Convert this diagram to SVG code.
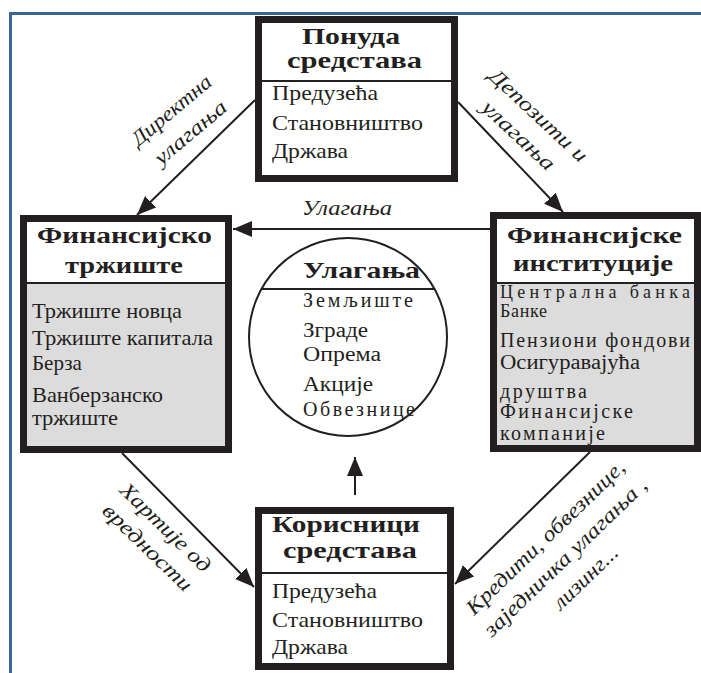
<svg xmlns="http://www.w3.org/2000/svg" width="701" height="673" viewBox="0 0 701 673">
<defs>
<style>
text{font-family:'Liberation Serif','Times New Roman',Times,serif;fill:#231f20}
.h{font-size:24px;font-weight:bold}
.i{font-size:21px}
.s{font-size:20px}
.l{font-size:21px;font-style:italic}
.box{fill:none;stroke:#231f20;stroke-width:7}
.div{stroke:#231f20;stroke-width:2}
.con{stroke:#231f20;stroke-width:2;fill:none;marker-end:url(#ah)}
</style>
<marker id="ah" markerUnits="userSpaceOnUse" markerWidth="20" markerHeight="16" refX="19" refY="8" orient="auto">
<path d="M0,0 L19,8 L0,16 z" fill="#231f20"/>
</marker>
</defs>
<rect width="701" height="673" fill="#ffffff"/>
<g id="frame" fill="#3a6598">
<rect x="9" y="12" width="692" height="3"/>
<rect x="9" y="12" width="3" height="661"/>
</g>

<g id="connectors">
<line class="con" x1="255" y1="100" x2="137" y2="215"/>
<line class="con" x1="458" y1="102" x2="563" y2="212"/>
<line class="con" x1="490" y1="229" x2="233" y2="229"/>
<line class="con" x1="122" y1="453" x2="254" y2="587"/>
<line class="con" x1="590" y1="452" x2="455" y2="584"/>
<line class="con" x1="355" y1="495" x2="355" y2="457"/>
<g class="l">
<text transform="translate(172,111) rotate(-40)" y="6" text-anchor="middle" textLength="98" lengthAdjust="spacingAndGlyphs">Директна</text>
<text transform="translate(191,133) rotate(-40)" y="6" text-anchor="middle" textLength="88" lengthAdjust="spacingAndGlyphs">улагања</text>
<text transform="translate(538,116) rotate(43)" y="6" text-anchor="middle" textLength="126" lengthAdjust="spacingAndGlyphs">Депозити и</text>
<text transform="translate(518,136) rotate(43)" y="6" text-anchor="middle" textLength="92" lengthAdjust="spacingAndGlyphs">улагања</text>
<text x="347" y="215" text-anchor="middle" textLength="90" lengthAdjust="spacingAndGlyphs">Улагања</text>
<text transform="translate(165,528) rotate(44)" y="6" text-anchor="middle" textLength="118" lengthAdjust="spacingAndGlyphs">Хартије од</text>
<text transform="translate(147,548) rotate(44)" y="6" text-anchor="middle" textLength="116" lengthAdjust="spacingAndGlyphs">вредности</text>
<text transform="translate(546,538) rotate(-44)" y="6" text-anchor="middle" textLength="212" lengthAdjust="spacingAndGlyphs">Кредити, обвезнице,</text>
<text transform="translate(566,558) rotate(-44)" y="6" text-anchor="middle" textLength="218" lengthAdjust="spacingAndGlyphs">заједничка улагања ,</text>
<text transform="translate(586,578) rotate(-44)" y="6" text-anchor="middle" textLength="82" lengthAdjust="spacingAndGlyphs">лизинг...</text>
</g>
</g>

<g id="ponuda">
<rect x="258.5" y="19.5" width="196" height="159" fill="#ffffff"/>
<rect class="box" x="258.5" y="19.5" width="196" height="159"/>
<line class="div" x1="262" y1="81" x2="451" y2="81"/>
<g class="h">
<text x="302" y="44" textLength="98" lengthAdjust="spacingAndGlyphs">Понуда</text>
<text x="287" y="68" textLength="135" lengthAdjust="spacingAndGlyphs">средстава</text>
</g>
<g class="i">
<text x="272" y="100" textLength="106" lengthAdjust="spacingAndGlyphs">Предузећа</text>
<text x="272" y="130" textLength="151" lengthAdjust="spacingAndGlyphs">Становништво</text>
<text x="272" y="158" textLength="76" lengthAdjust="spacingAndGlyphs">Држава</text>
</g>
</g>

<g id="trziste">
<rect x="23.5" y="218.5" width="205" height="231" fill="#ffffff"/>
<rect x="27" y="283" width="198" height="163" fill="#dcdcdc"/>
<rect class="box" x="23.5" y="218.5" width="205" height="231"/>
<line class="div" x1="27" y1="283" x2="225" y2="283"/>
<g class="h">
<text x="37" y="243" textLength="175" lengthAdjust="spacingAndGlyphs">Финансијско</text>
<text x="65" y="273" textLength="118" lengthAdjust="spacingAndGlyphs">тржиште</text>
</g>
<g class="i">
<text x="32" y="318" textLength="150" lengthAdjust="spacingAndGlyphs">Тржиште новца</text>
<text x="32" y="345" textLength="181" lengthAdjust="spacingAndGlyphs">Тржиште капитала</text>
<text x="32" y="370" textLength="50" lengthAdjust="spacingAndGlyphs">Берза</text>
<text x="32" y="402" textLength="131" lengthAdjust="spacingAndGlyphs">Ванберзанско</text>
<text x="32" y="425" textLength="86" lengthAdjust="spacingAndGlyphs">тржиште</text>
</g>
</g>

<g id="institucije">
<rect x="493.5" y="215.5" width="204" height="233" fill="#ffffff"/>
<rect x="497" y="283" width="197" height="162" fill="#dcdcdc"/>
<rect class="box" x="493.5" y="215.5" width="204" height="233"/>
<line class="div" x1="497" y1="283" x2="694" y2="283"/>
<g class="h">
<text x="507" y="243" textLength="175" lengthAdjust="spacingAndGlyphs">Финансијске</text>
<text x="513" y="271" textLength="160" lengthAdjust="spacingAndGlyphs">институције</text>
</g>
<g class="s">
<text x="500" y="298" font-size="18" textLength="190" lengthAdjust="spacing">Централна банка</text>
<text x="500" y="317" font-size="18" textLength="47" lengthAdjust="spacing">Банке</text>
<text x="500" y="347" textLength="190" lengthAdjust="spacing">Пензиони фондови</text>
<text x="500" y="369" textLength="140" lengthAdjust="spacingAndGlyphs">Осигуравајућа</text>
<text x="500" y="398" textLength="87" lengthAdjust="spacing">друштва</text>
<text x="500" y="418" textLength="133" lengthAdjust="spacing">Финансијске</text>
<text x="500" y="440" textLength="105" lengthAdjust="spacing">компаније</text>
</g>
</g>

<g id="ulaganja">
<circle cx="348" cy="337" r="99" fill="#ffffff" stroke="#231f20" stroke-width="2"/>
<line class="div" x1="262" y1="289" x2="435" y2="289"/>
<text class="h" x="303" y="278" textLength="117" lengthAdjust="spacingAndGlyphs">Улагања</text>
<g class="s">
<text x="303" y="307" textLength="110" lengthAdjust="spacing">Земљиште</text>
<text x="303" y="337" textLength="65" lengthAdjust="spacingAndGlyphs">Зграде</text>
<text x="303" y="361" textLength="78" lengthAdjust="spacingAndGlyphs">Опрема</text>
<text x="303" y="391" textLength="70" lengthAdjust="spacingAndGlyphs">Акције</text>
<text x="303" y="416" textLength="112" lengthAdjust="spacing">Обвезнице</text>
</g>
</g>

<g id="korisnici">
<rect x="258.5" y="510.5" width="192" height="156" fill="#ffffff"/>
<rect class="box" x="258.5" y="510.5" width="192" height="156"/>
<line class="div" x1="262" y1="573" x2="447" y2="573"/>
<g class="h">
<text x="272" y="532" textLength="148" lengthAdjust="spacingAndGlyphs">Корисници</text>
<text x="283" y="558" textLength="134" lengthAdjust="spacingAndGlyphs">средстава</text>
</g>
<g class="i">
<text x="272" y="598" textLength="105" lengthAdjust="spacingAndGlyphs">Предузећа</text>
<text x="272" y="627" textLength="151" lengthAdjust="spacingAndGlyphs">Становништво</text>
<text x="272" y="654" textLength="76" lengthAdjust="spacingAndGlyphs">Држава</text>
</g>
</g>
</svg>
